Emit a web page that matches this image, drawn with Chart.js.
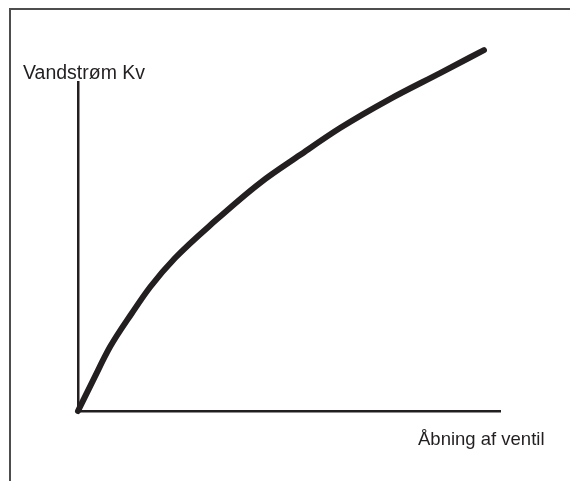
<!DOCTYPE html>
<html>
<head>
<meta charset="utf-8">
<script src="https://cdn.jsdelivr.net/npm/chart.js@4"></script>
<style>
  html, body { margin: 0; padding: 0; background: #fff; }
  #wrap { width: 570px; height: 481px; }
</style>
</head>
<body>
<div id="wrap"><canvas id="kvChart" width="570" height="481"></canvas></div>
<script>
// Kv-kurve: valve opening vs water flow
const opening = [0, 3.6, 7.6, 12.8, 17.1, 23.0, 32.5, 43.1, 52.6, 62.1, 73.9, 85.8, 96.2];
const flow    = [0, 9.4, 19.5, 29.8, 37.7, 46.5, 57.8, 69.3, 77.8, 86.0, 94.8, 102.7, 109.7];
const yTitle = "Vandstrøm Kv";
const xTitle = "Åbning af ventil";

const ink = "#231f20";

// frame + axis titles
const decorations = {
  id: "decorations",
  afterDraw(chart) {
    const c = chart.ctx;
    const area = chart.chartArea;
    c.save();
    c.strokeStyle = "#4d4d4d";
    c.lineWidth = 2;
    c.beginPath();
    c.moveTo(10, 481);
    c.lineTo(10, 9);
    c.lineTo(570, 9);
    c.stroke();

    c.fillStyle = ink;
    c.textBaseline = "alphabetic";
    c.textAlign = "left";
    c.font = "19.5px 'Liberation Sans', Arial, sans-serif";
    c.fillText(yTitle, area.left - 55, area.top - 3);
    c.font = "18.5px 'Liberation Sans', Arial, sans-serif";
    c.fillText(xTitle, area.right - 82, area.bottom + 34);
    c.restore();
  },
};

const ctx = document.getElementById("kvChart");
new Chart(ctx, {
  type: "line",
  data: {
    datasets: [
      {
        data: opening.map((x, i) => ({ x: x, y: flow[i] })),
        borderColor: ink,
        borderWidth: 6,
        borderCapStyle: "round",
        borderJoinStyle: "round",
        pointRadius: 0,
        cubicInterpolationMode: "monotone",
        fill: false,
        clip: false,
      },
    ],
  },
  options: {
    responsive: false,
    animation: false,
    layout: { padding: { left: 78, right: 70, top: 82, bottom: 70 } },
    plugins: { legend: { display: false }, tooltip: { enabled: false } },
    scales: {
      x: {
        type: "linear",
        min: 0,
        max: 100,
        grid: { display: false, drawTicks: false },
        ticks: { display: false },
        border: { display: true, color: ink, width: 2.5 },
        afterFit(scale) { scale.height = 0; },
      },
      y: {
        type: "linear",
        min: 0,
        max: 100,
        grid: { display: false, drawTicks: false },
        ticks: { display: false },
        border: { display: true, color: ink, width: 2.5 },
        afterFit(scale) { scale.width = 0; },
      },
    },
  },
  plugins: [decorations],
});
</script>
</body>
</html>
